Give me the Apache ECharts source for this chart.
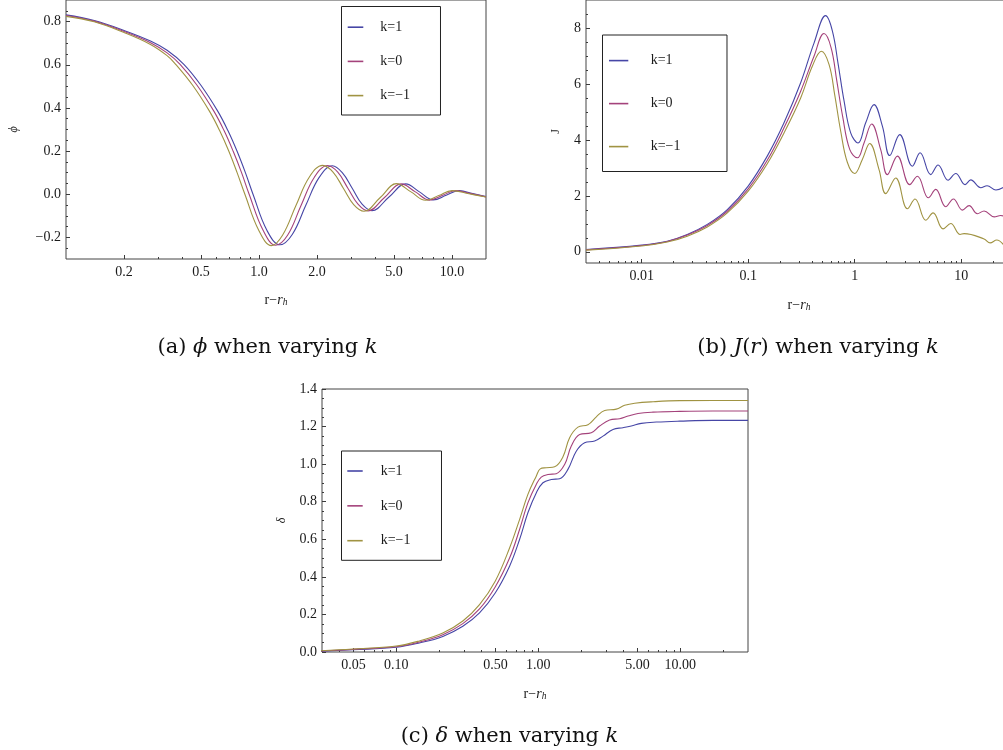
<!DOCTYPE html>
<html><head><meta charset="utf-8">
<script src="https://cdn.jsdelivr.net/npm/echarts@6/dist/echarts.min.js"></script>
<style>html,body{margin:0;padding:0;background:#fff}#c{width:1003px;height:750px}</style>
</head><body><div id="c"></div>
<script>
// ---------- shared ----------
const seriesNames = ['k=1', 'k=0', 'k=−1'];
const seriesColors = ['#4646a6', '#a4427b', '#a09342'];

// ---------- (a) phi ----------
const phiK1 = [[0.1,0.831],[0.14,0.805],[0.2,0.759],[0.274,0.71],[0.334,0.667],[0.408,0.602],[0.5,0.505],[0.611,0.385],[0.69,0.295],[0.769,0.2],[0.85,0.1],[0.931,0.0],[1.1,-0.168],[1.285,-0.234],[1.49,-0.185],[1.748,-0.051],[2.05,0.078],[2.4,0.132],[2.7,0.1],[3.04,0.028],[3.42,-0.046],[3.85,-0.076],[4.7,-0.014],[5.75,0.048],[6.78,0.011],[8.0,-0.026],[9.33,-0.005],[10.9,0.017],[12.8,0.003],[15.0,-0.011]];
const phiK0 = [[0.1,0.828],[0.14,0.802],[0.2,0.754],[0.274,0.702],[0.334,0.655],[0.39,0.602],[0.4775,0.505],[0.5835,0.385],[0.659,0.295],[0.734,0.2],[0.812,0.1],[0.889,0.0],[1.05,-0.167],[1.22,-0.236],[1.406,-0.19],[1.651,-0.052],[1.936,0.079],[2.27,0.133],[2.559,0.102],[2.887,0.028],[3.258,-0.046],[3.67,-0.077],[4.47,-0.015],[5.45,0.048],[6.46,0.011],[7.65,-0.027],[8.94,-0.005],[10.45,0.017],[12.5,0.003],[15.0,-0.012]];
const phiKm1 = [[0.1,0.824],[0.14,0.799],[0.2,0.749],[0.274,0.694],[0.334,0.642],[0.37,0.602],[0.453,0.505],[0.5535,0.385],[0.625,0.295],[0.697,0.2],[0.77,0.1],[0.845,0.0],[0.998,-0.168],[1.16,-0.238],[1.324,-0.19],[1.554,-0.052],[1.824,0.08],[2.14,0.134],[2.418,0.103],[2.735,0.028],[3.094,-0.048],[3.5,-0.079],[4.25,-0.015],[5.15,0.049],[6.13,0.011],[7.3,-0.028],[8.54,-0.006],[10.0,0.017],[12.25,0.002],[15.0,-0.013]];
const xTicksA = [0.2, 0.5, 1, 2, 5, 10];
const xTickLabelsA = ['0.2', '0.5', '1.0', '2.0', '5.0', '10.0'];
const xMinorA = [0.3, 0.4, 0.6, 0.7, 0.8, 0.9, 3, 4, 6, 7, 8, 9];
const yTicksA = [-0.2, 0, 0.2, 0.4, 0.6, 0.8];
const yTickLabelsA = ['−0.2', '0.0', '0.2', '0.4', '0.6', '0.8'];
const yMinorA = [-0.25, -0.15, -0.1, -0.05, 0.05, 0.1, 0.15, 0.25, 0.3, 0.35, 0.45, 0.5, 0.55, 0.65, 0.7, 0.75, 0.85];

// ---------- (b) J ----------
const jK1 = [[0.003,0.083],[0.01,0.24],[0.0174,0.38],[0.0268,0.62],[0.0413,0.98],[0.0637,1.51],[0.1,2.35],[0.151,3.42],[0.217,4.61],[0.311,6.04],[0.415,7.46],[0.534,8.44],[0.617,7.9],[0.7,6.7],[0.794,5.4],[0.917,4.25],[1.075,3.89],[1.269,4.61],[1.519,5.26],[1.82,4.49],[2.132,3.44],[2.647,4.19],[3.482,3.06],[4.111,3.54],[5.176,2.76],[6.067,3.10],[7.532,2.56],[8.89,2.80],[10.88,2.40],[12.3,2.57],[15.27,2.29],[17.5,2.36],[21.2,2.21],[25.1,2.31]];
const jK0 = [[0.003,0.07],[0.01,0.226],[0.0174,0.37],[0.0268,0.60],[0.0413,0.94],[0.0637,1.45],[0.1,2.25],[0.151,3.27],[0.217,4.43],[0.311,5.74],[0.415,6.99],[0.515,7.80],[0.6,7.3],[0.68,6.1],[0.77,4.85],[0.9,3.65],[1.06,3.36],[1.224,3.89],[1.444,4.57],[1.755,3.65],[2.027,2.76],[2.517,3.42],[3.287,2.40],[3.879,2.70],[4.921,1.93],[5.768,2.23],[7.161,1.61],[8.453,1.89],[10.27,1.49],[11.87,1.65],[14.21,1.36],[16.4,1.46],[20.4,1.25],[23.5,1.30],[25.1,1.27]];
const jKm1 = [[0.003,0.06],[0.01,0.21],[0.0174,0.35],[0.0268,0.56],[0.0413,0.89],[0.0637,1.39],[0.1,2.17],[0.151,3.15],[0.217,4.25],[0.311,5.5],[0.40,6.63],[0.486,7.17],[0.574,6.7],[0.65,5.6],[0.74,4.3],[0.853,3.2],[1.0,2.80],[1.18,3.30],[1.383,3.87],[1.693,2.94],[1.956,2.08],[2.428,2.64],[3.125,1.54],[3.689,1.89],[4.646,1.13],[5.445,1.39],[6.761,0.82],[7.98,1.01],[9.766,0.62],[10.65,0.65],[16.41,0.46],[18.69,0.32],[21.59,0.42],[25.1,0.24]];
const xTicksB = [0.01, 0.1, 1, 10];
const xTickLabelsB = ['0.01', '0.1', '1', '10'];
const xMinorB = [0.004,0.005,0.006,0.007,0.008,0.009,0.02,0.03,0.04,0.05,0.06,0.07,0.08,0.09,0.2,0.3,0.4,0.5,0.6,0.7,0.8,0.9,2,3,4,5,6,7,8,9,20,30];
const yTicksB = [0, 2, 4, 6, 8];
const yTickLabelsB = ['0', '2', '4', '6', '8'];
const yMinorB = [0.5, 1, 1.5, 2.5, 3, 3.5, 4.5, 5, 5.5, 6.5, 7, 7.5, 8.5];

// ---------- (c) delta ----------
const dK1 = [[0.0295,0.004],[0.0494,0.012],[0.1,0.025],[0.1456,0.048],[0.2128,0.083],[0.2943,0.137],[0.3858,0.208],[0.4975,0.314],[0.6281,0.457],[0.7386,0.599],[0.8455,0.741],[0.968,0.847],[1.079,0.901],[1.235,0.918],[1.413,0.922],[1.618,0.972],[1.852,1.069],[2.121,1.114],[2.494,1.123],[2.857,1.149],[3.36,1.185],[3.95,1.194],[4.52,1.203],[5.32,1.217],[6.79,1.224],[9.92,1.229],[17.0,1.233],[30,1.233]];
const dK0 = [[0.0295,0.005],[0.0494,0.014],[0.1,0.028],[0.1456,0.053],[0.2128,0.092],[0.2943,0.151],[0.3858,0.229],[0.4975,0.346],[0.6281,0.50],[0.7386,0.652],[0.8455,0.794],[0.968,0.892],[1.05,0.931],[1.17,0.945],[1.339,0.949],[1.534,0.998],[1.709,1.096],[1.956,1.158],[2.364,1.167],[2.706,1.203],[3.18,1.235],[3.745,1.242],[4.287,1.256],[5.04,1.270],[6.435,1.277],[9.92,1.281],[17.0,1.283],[30,1.283]];
const dKm1 = [[0.0295,0.007],[0.0494,0.016],[0.1,0.032],[0.1456,0.059],[0.2128,0.101],[0.2943,0.165],[0.3858,0.252],[0.4975,0.377],[0.6281,0.554],[0.7386,0.705],[0.8455,0.839],[0.968,0.936],[1.033,0.975],[1.139,0.981],[1.304,0.986],[1.493,1.039],[1.663,1.141],[1.904,1.197],[2.239,1.210],[2.565,1.252],[2.937,1.286],[3.545,1.293],[4.058,1.313],[4.778,1.324],[6.435,1.332],[9.92,1.338],[17.0,1.339],[30,1.339]];
const xTicksC = [0.05, 0.1, 0.5, 1, 5, 10];
const xTickLabelsC = ['0.05', '0.10', '0.50', '1.00', '5.00', '10.00'];
const xMinorC = [0.03,0.04,0.06,0.07,0.08,0.09,0.2,0.3,0.4,0.6,0.7,0.8,0.9,2,3,4,6,7,8,9,20];
const yTicksC = [0, 0.2, 0.4, 0.6, 0.8, 1.0, 1.2, 1.4];
const yTickLabelsC = ['0.0', '0.2', '0.4', '0.6', '0.8', '1.0', '1.2', '1.4'];
const yMinorC = [0.05,0.1,0.15,0.25,0.3,0.35,0.45,0.5,0.55,0.65,0.7,0.75,0.85,0.9,0.95,1.05,1.1,1.15,1.25,1.3,1.35];

// ---------- styling helpers ----------
const FONT = 'Liberation Serif';
const TXT = '#1a1a1a';
const AX = '#3a3a3a';

function fmt(ticks, labels) {
  return function (v) {
    for (let i = 0; i < ticks.length; i++) {
      if (Math.abs(v - ticks[i]) <= 1e-6 * Math.max(Math.abs(ticks[i]), 1e-9) + 1e-12) return labels[i];
    }
    return '';
  };
}
const nameRich = {
  u: { fontFamily: FONT, fontSize: 14, color: TXT, lineHeight: 19, verticalAlign: 'bottom' },
  i: { fontFamily: FONT, fontSize: 14, fontStyle: 'italic', color: TXT, lineHeight: 19, verticalAlign: 'bottom' },
  s: { fontFamily: FONT, fontSize: 9.5, fontStyle: 'italic', color: TXT, lineHeight: 9, verticalAlign: 'bottom' }
};
function xMajor(grid, min, max, ticks, labels, nameGap) {
  return {
    gridIndex: grid, type: 'log', logBase: 10, min: min, max: max, position: 'bottom',
    axisLine: { show: false, onZero: false }, splitLine: { show: false },
    axisTick: { show: true, inside: true, length: 4, customValues: ticks, lineStyle: { color: AX, width: 1 } },
    axisLabel: { show: true, customValues: ticks, formatter: fmt(ticks, labels), margin: 6, fontFamily: FONT, fontSize: 14, color: TXT },
    name: '{u|r−}{i|r}{s|h}', nameLocation: 'middle', nameGap: nameGap,
    nameTextStyle: { fontFamily: FONT, fontSize: 14, color: TXT, rich: nameRich }
  };
}
function xMinor(grid, min, max, minor) {
  return {
    gridIndex: grid, type: 'log', logBase: 10, min: min, max: max, position: 'bottom',
    axisLine: { show: false, onZero: false }, splitLine: { show: false }, axisLabel: { show: false },
    axisTick: { show: true, inside: true, length: 2, customValues: minor, lineStyle: { color: AX, width: 1 } }
  };
}
function yMajor(grid, min, max, ticks, labels, name, italic, nameGap) {
  return {
    gridIndex: grid, type: 'value', min: min, max: max, position: 'left',
    axisLine: { show: false, onZero: false }, splitLine: { show: false },
    axisTick: { show: true, inside: true, length: 4, customValues: ticks, lineStyle: { color: AX, width: 1 } },
    axisLabel: { show: true, customValues: ticks, formatter: fmt(ticks, labels), margin: 5, fontFamily: FONT, fontSize: 14, color: TXT },
    name: name, nameLocation: 'middle', nameGap: nameGap, nameRotate: 90,
    nameTextStyle: { fontFamily: FONT, fontSize: 12, fontStyle: italic ? 'italic' : 'normal', color: TXT }
  };
}
function yMinor(grid, min, max, minor) {
  return {
    gridIndex: grid, type: 'value', min: min, max: max, position: 'left',
    axisLine: { show: false, onZero: false }, splitLine: { show: false }, axisLabel: { show: false },
    axisTick: { show: true, inside: true, length: 2, customValues: minor, lineStyle: { color: AX, width: 1 } }
  };
}
function grid(left, top, width, height) {
  return { left: left, top: top, width: width, height: height, show: true, borderColor: '#444', borderWidth: 1,
    backgroundColor: 'transparent', containLabel: false, outerBoundsMode: 'none' };
}
function legend(left, top, padding, gap, iw, textPad) {
  return {
    data: seriesNames, orient: 'vertical', left: left, top: top, padding: padding, itemGap: gap,
    itemWidth: iw, itemHeight: 1.6, icon: 'rect', borderColor: '#222', borderWidth: 1, backgroundColor: '#fff',
    selectedMode: false,
    formatter: function (n) { return '{t|' + n + '}'; },
    textStyle: { fontFamily: FONT, fontSize: 14, color: TXT, lineHeight: 14,
      rich: { t: { fontFamily: FONT, fontSize: 14, color: TXT, lineHeight: 14, padding: [0, 0, 0, textPad] } } }
  };
}
function line(name, data, color, xi, yi) {
  return { type: 'line', name: name, data: data, xAxisIndex: xi, yAxisIndex: yi, smooth: 0.4,
    symbol: 'none', showSymbol: false, lineStyle: { color: color, width: 1.1 }, itemStyle: { color: color },
    animation: false, silent: true };
}

const chart = echarts.init(document.getElementById('c'), null, { renderer: 'canvas' });
chart.setOption({
  animation: false,
  backgroundColor: '#fff',
  grid: [grid(66, 0, 420, 259), grid(586, 0, 426, 263), grid(322, 389, 426, 263)],
  xAxis: [
    xMajor(0, 0.1, 15, xTicksA, xTickLabelsA, 29), xMinor(0, 0.1, 15, xMinorA),
    xMajor(1, 0.003, 30, xTicksB, xTickLabelsB, 30), xMinor(1, 0.003, 30, xMinorB),
    xMajor(2, 0.03, 30, xTicksC, xTickLabelsC, 30), xMinor(2, 0.03, 30, xMinorC)
  ],
  yAxis: [
    yMajor(0, -0.3, 0.9, yTicksA, yTickLabelsA, 'ϕ', true, 46), yMinor(0, -0.3, 0.9, yMinorA),
    yMajor(1, -0.4, 9, yTicksB, yTickLabelsB, 'J', false, 24), yMinor(1, -0.4, 9, yMinorB),
    yMajor(2, 0, 1.4, yTicksC, yTickLabelsC, 'δ', true, 34), yMinor(2, 0, 1.4, yMinorC)
  ],
  legend: [
    legend(341.5, 6.5, [13.7, 30.4, 12.4, 6.2], 20.2, 15.6, 12),
    legend(602.5, 35, [18.6, 46.5, 17.9, 6.5], 29, 19.3, 17.4),
    legend(341.5, 451, [13, 31, 12.6, 5.8], 20.85, 15.4, 13)
  ],
  series: [
    line(seriesNames[0], phiK1, seriesColors[0], 0, 0),
    line(seriesNames[1], phiK0, seriesColors[1], 0, 0),
    line(seriesNames[2], phiKm1, seriesColors[2], 0, 0),
    line(seriesNames[0], jK1, seriesColors[0], 2, 2),
    line(seriesNames[1], jK0, seriesColors[1], 2, 2),
    line(seriesNames[2], jKm1, seriesColors[2], 2, 2),
    line(seriesNames[0], dK1, seriesColors[0], 4, 4),
    line(seriesNames[1], dK0, seriesColors[1], 4, 4),
    line(seriesNames[2], dKm1, seriesColors[2], 4, 4)
  ],
  graphic: [
    { type: 'text', x: 267.5, y: 347.5, style: { text: '(a) {i|ϕ} when varying {i|k}', fontFamily: 'DejaVu Serif', fontSize: 21, fill: '#111', align: 'center', verticalAlign: 'middle',
      rich: { i: { fontFamily: 'DejaVu Serif', fontSize: 21, fontStyle: 'italic', fill: '#111' } } } },
    { type: 'text', x: 818, y: 347.5, style: { text: '(b) {i|J}({i|r}) when varying {i|k}', fontFamily: 'DejaVu Serif', fontSize: 21, fill: '#111', align: 'center', verticalAlign: 'middle',
      rich: { i: { fontFamily: 'DejaVu Serif', fontSize: 21, fontStyle: 'italic', fill: '#111' } } } },
    { type: 'text', x: 509.5, y: 737, style: { text: '(c) {i|δ} when varying {i|k}', fontFamily: 'DejaVu Serif', fontSize: 21, fill: '#111', align: 'center', verticalAlign: 'middle',
      rich: { i: { fontFamily: 'DejaVu Serif', fontSize: 21, fontStyle: 'italic', fill: '#111' } } } }
  ]
});
</script></body></html>
